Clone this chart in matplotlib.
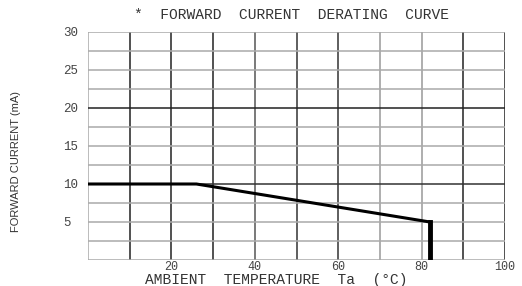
import matplotlib.pyplot as plt

temperatura = [0, 26, 82, 82]
corriente = [10, 10, 5, 0]

x_ticks = [20, 40, 60, 80, 100]
y_ticks = [5, 10, 15, 20, 25, 30]
x_grid = [0, 10, 20, 30, 40, 50, 60, 70, 80, 90, 100]
y_grid = [0, 2.5, 5, 7.5, 10, 12.5, 15, 17.5, 20, 22.5, 25, 27.5, 30]

# Colores de las líneas de la rejilla (el escaneo las deja unas más oscuras que otras)
x_grid_color = ['#aaaaaa', '#222222', '#222222', '#222222', '#555555', '#333333',
                '#333333', '#999999', '#999999', '#222222', '#222222']
y_grid_color = ['#aaaaaa'] * 13
y_grid_color[8] = '#222222'
y_grid_color[4] = '#333333'

mono = 'Liberation Mono'

fig = plt.figure(figsize=(5.22, 2.86), dpi=100)
ax = fig.add_axes([88 / 522, 1 - 260 / 286, (505 - 88) / 522, (260 - 32) / 286])

for x, c in zip(x_grid, x_grid_color):
    ax.axvline(x, color=c, lw=1.1, zorder=1)
for y, c in zip(y_grid, y_grid_color):
    ax.axhline(y, color=c, lw=1.1, zorder=1)

ax.plot(temperatura[:3], corriente[:3], color='black', lw=2.2, zorder=3)
ax.plot(temperatura[2:], corriente[2:], color='black', lw=3.5, zorder=3)

ax.set_xlim(0, 100)
ax.set_ylim(0, 30)
for s in ax.spines.values():
    s.set_visible(False)

ax.set_xticks(x_ticks)
ax.set_yticks(y_ticks)
ax.set_xticklabels([str(v) for v in x_ticks], family=mono, fontsize=8.5, color='#444444')
ax.set_yticklabels([str(v) for v in y_ticks], family=mono, fontsize=9, color='#444444')
ax.tick_params(axis='both', length=0)
ax.tick_params(axis='x', pad=0.5)
ax.tick_params(axis='y', pad=18)
plt.setp(ax.get_yticklabels(), ha='left')

fig.text(291 / 522, 1 - 15 / 286, '*  FORWARD  CURRENT  DERATING  CURVE',
         family=mono, fontsize=10.5, ha='center', va='center', color='#333333')
fig.text(276 / 522, 1 - 280 / 286, 'AMBIENT  TEMPERATURE  Ta  (°C)',
         family=mono, fontsize=10.5, ha='center', va='center', color='#333333')
fig.text(16 / 522, 1 - 162 / 286, 'FORWARD CURRENT (mA)', family='Liberation Sans',
         fontsize=8, rotation=90, ha='center', va='center', color='#333333')

fig.savefig('out.png', dpi=100)
